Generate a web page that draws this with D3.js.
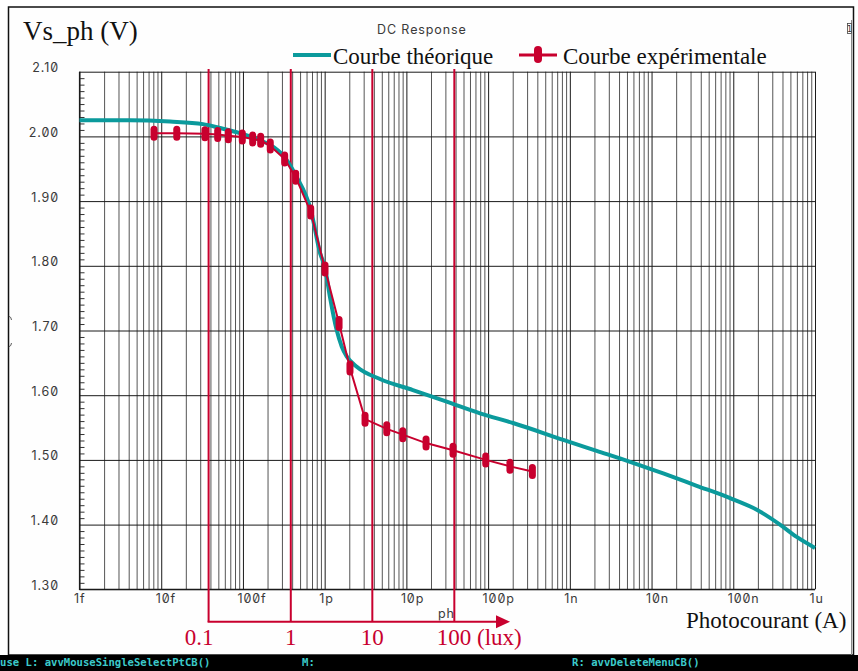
<!DOCTYPE html>
<html>
<head>
<meta charset="utf-8">
<script src="https://cdn.jsdelivr.net/npm/d3@7"></script>
<style>
  html, body { margin: 0; padding: 0; background: #fff; }
  svg { display: block; }
  .axis-label { font-family: Inter, "DejaVu Sans", sans-serif; font-variant-numeric: slashed-zero; font-feature-settings: "zero" 1; font-size: 12.5px; fill: #3a3a3a; letter-spacing: 0.9px; }
  .serif { font-family: "Liberation Serif", "Times New Roman", serif; }
  .status { font-family: "DejaVu Sans Mono", monospace; font-size: 10.6px; font-weight: bold; fill: #3ccaca; }
</style>
</head>
<body>
<svg id="chart" width="858" height="671"></svg>
<script>
// Theoretical DC response: photocurrent (A) vs output voltage Vs_ph (V)
const theoCurrent = [1e-15, 4.15e-15, 1.28e-14, 3.24e-14, 5.24e-14, 9.2e-14, 1.62e-13, 2.14e-13,
  3.27e-13, 4.46e-13, 6.81e-13, 8.77e-13, 1.01e-12, 1.16e-12, 1.40e-12, 1.62e-12, 1.86e-12,
  2.47e-12, 4.75e-12, 1.20e-11, 3.11e-11, 7.96e-11, 2.02e-10, 8.32e-10, 2.13e-9, 5.45e-9,
  1.39e-8, 3.57e-8, 9.14e-8, 1.94e-7, 3.73e-7, 5.97e-7, 1e-6];
const theoVoltage = [2.025, 2.025, 2.023, 2.019, 2.013, 2.005, 1.994, 1.987,
  1.967, 1.939, 1.885, 1.820, 1.797, 1.752, 1.701, 1.675, 1.660,
  1.644, 1.625, 1.608, 1.590, 1.572, 1.557, 1.531, 1.514, 1.497,
  1.479, 1.460, 1.441, 1.423, 1.400, 1.381, 1.364];

// Measured points
const measCurrent = [8.16e-15, 1.55e-14, 3.43e-14, 4.91e-14, 6.62e-14, 9.82e-14, 1.316e-13,
  1.648e-13, 2.16e-13, 3.24e-13, 4.42e-13, 6.75e-13, 1.01e-12, 1.50e-12, 2.04e-12, 3.12e-12,
  5.75e-12, 9.02e-12, 1.74e-11, 3.72e-11, 9.35e-11, 1.85e-10, 3.48e-10];
const measVoltage = [2.005, 2.005, 2.004, 2.003, 2.001, 1.999, 1.996,
  1.994, 1.985, 1.965, 1.937, 1.883, 1.795, 1.711, 1.642, 1.563,
  1.548, 1.539, 1.526, 1.515, 1.500, 1.490, 1.482];

// Illuminance markers (lux) and the photocurrent each corresponds to
const luxLabels = ["0.1", "1", "10", "100 (lux)"];
const luxCurrent = [3.8e-14, 3.85e-13, 3.83e-12, 3.86e-11];

// Axis ticks
const xTickValues = [1e-15, 1e-14, 1e-13, 1e-12, 1e-11, 1e-10, 1e-9, 1e-8, 1e-7, 1e-6];
const xTickLabels = ["1f", "10f", "100f", "1p", "10p", "100p", "1n", "10n", "100n", "1u"];
const yTickValues = [2.1, 2.0, 1.9, 1.8, 1.7, 1.6, 1.5, 1.4, 1.3];

const TEAL = "#0b9a9c";
const RED = "#c8002e";

const svg = d3.select("#chart");
const pLeft = 79.5, pRight = 815, pTop = 71.7, pBottom = 589.3;

const x = d3.scaleLog().domain([1e-15, 1e-6]).range([pLeft, pRight]);
const y = d3.scaleLinear().domain([1.3, 2.1]).range([pBottom, pTop]);

// Outer window frame and status bar
svg.append("rect").attr("x", 0).attr("y", 0).attr("width", 858).attr("height", 671).attr("fill", "#fff");
svg.append("rect").attr("x", 8.5).attr("y", 7).attr("width", 845).attr("height", 648)
  .attr("fill", "#fefefe").attr("stroke", "#111").attr("stroke-width", 1.5);
svg.append("line").attr("x1", 851.5).attr("x2", 851.5).attr("y1", 20).attr("y2", 655)
  .attr("stroke", "#888").attr("stroke-width", 1);
svg.append("rect").attr("x", 847.5).attr("y", 23.5).attr("width", 4).attr("height", 10)
  .attr("fill", "#fff").attr("stroke", "#444").attr("stroke-width", 0.8);
svg.append("text").attr("x", 849.5).attr("y", 32).attr("text-anchor", "middle")
  .attr("font-family", "DejaVu Sans").attr("font-size", 8).attr("fill", "#333").text("1");
svg.append("path").attr("d", "M8.5,316 q3,1 3,4 M8.5,347 q3,-1 3,-4")
  .attr("fill", "none").attr("stroke", "#333").attr("stroke-width", 0.8);

svg.append("rect").attr("x", 0).attr("y", 655).attr("width", 858).attr("height", 16).attr("fill", "#000");
svg.append("text").attr("class", "status").attr("x", 0).attr("y", 666).text("use L: avvMouseSingleSelectPtCB()");
svg.append("text").attr("class", "status").attr("x", 302).attr("y", 666).text("M:");
svg.append("text").attr("class", "status").attr("x", 572).attr("y", 666).text("R: avvDeleteMenuCB()");

// Plot background
svg.append("rect").attr("x", pLeft).attr("y", pTop).attr("width", pRight - pLeft).attr("height", pBottom - pTop)
  .attr("fill", "#fff");

// Minor vertical grid (2..9 per decade)
const minorX = [];
for (let k = -15; k < -6; k++) for (let m = 2; m <= 9; m++) minorX.push(m * Math.pow(10, k));
svg.append("g").attr("transform", `translate(0,${pBottom})`)
  .call(d3.axisBottom(x).tickValues(minorX).tickFormat("").tickSize(-(pBottom - pTop)).tickSizeOuter(0))
  .call(g => g.select(".domain").remove())
  .call(g => g.selectAll("line").attr("stroke", "#555").attr("stroke-width", 1));

// Major vertical grid + labels
svg.append("g").attr("transform", `translate(0,${pBottom})`)
  .call(d3.axisBottom(x).tickValues(xTickValues).tickFormat((d, i) => xTickLabels[i])
    .tickSize(-(pBottom - pTop)).tickSizeOuter(0).tickPadding(4))
  .call(g => g.select(".domain").remove())
  .call(g => g.selectAll("line").attr("stroke", "#1a1a1a").attr("stroke-width", 1))
  .call(g => g.selectAll("text").attr("class", "axis-label").attr("text-anchor", "start")
    .attr("dx", -6).attr("y", 4).attr("dy", "0.75em"));

// Minor y ticks (every 0.01) on the left edge
const minorY = d3.range(131, 211).map(v => v / 100).filter(v => Math.round(v * 100) % 10 !== 0);
svg.append("g").attr("transform", `translate(${pLeft},0)`)
  .call(d3.axisLeft(y).tickValues(minorY).tickFormat("").tickSize(-5).tickSizeOuter(0))
  .call(g => g.select(".domain").remove())
  .call(g => g.selectAll("line").attr("stroke", "#333").attr("stroke-width", 1));

// Major horizontal grid + labels
svg.append("g").attr("transform", `translate(${pLeft},0)`)
  .call(d3.axisLeft(y).tickValues(yTickValues).tickFormat(d3.format(".2f"))
    .tickSize(-(pRight - pLeft)).tickSizeOuter(0).tickPadding(20.5))
  .call(g => g.select(".domain").remove())
  .call(g => g.selectAll("line").attr("stroke", "#1a1a1a").attr("stroke-width", 1))
  .call(g => g.selectAll("text").attr("class", "axis-label").attr("y", -4));

// Plot border (left and bottom)
svg.append("path").attr("d", `M${pLeft},${pTop}V${pBottom}H${pRight}`)
  .attr("fill", "none").attr("stroke", "#1a1a1a").attr("stroke-width", 1.2);

// Lux reference lines with arrow
const luxG = svg.append("g");
const arrowY = 621.7;
luxG.selectAll("line.lux").data(luxCurrent).join("line").attr("class", "lux")
  .attr("x1", d => x(d)).attr("x2", d => x(d)).attr("y1", 69).attr("y2", arrowY)
  .attr("stroke", RED).attr("stroke-width", 2);
const arrowEnd = 510;
luxG.append("line").attr("x1", x(luxCurrent[0]) - 1).attr("x2", arrowEnd - 10)
  .attr("y1", arrowY).attr("y2", arrowY).attr("stroke", RED).attr("stroke-width", 2);
luxG.append("path").attr("d", `M${arrowEnd},${arrowY}L${arrowEnd - 14},${arrowY - 6.5}L${arrowEnd - 14},${arrowY + 6.5}Z`)
  .attr("fill", RED);

// "ph" axis caption fragment
svg.append("text").attr("class", "axis-label").attr("x", 438).attr("y", 618).attr("font-size", 12).text("ph");

const luxAnchor = ["end", "middle", "middle", "start"];
const luxDx = [5, 0, 0, -17.5];
luxG.selectAll("text").data(luxLabels).join("text").attr("class", "serif")
  .attr("x", (d, i) => x(luxCurrent[i]) + luxDx[i]).attr("y", 645)
  .attr("text-anchor", (d, i) => luxAnchor[i])
  .attr("font-size", 23).attr("fill", RED).text(d => d);

// Theoretical curve
const theo = theoCurrent.map((c, i) => [c, theoVoltage[i]]);
svg.append("path").datum(theo)
  .attr("d", d3.line().x(d => x(d[0])).y(d => y(d[1])).curve(d3.curveMonotoneX))
  .attr("fill", "none").attr("stroke", TEAL).attr("stroke-width", 4).attr("stroke-linejoin", "round");

// Measured curve
const meas = measCurrent.map((c, i) => [c, measVoltage[i]]);
svg.append("path").datum(meas)
  .attr("d", d3.line().x(d => x(d[0])).y(d => y(d[1])))
  .attr("fill", "none").attr("stroke", RED).attr("stroke-width", 2);
svg.append("g").selectAll("rect").data(meas).join("rect")
  .attr("x", d => x(d[0]) - 3.5).attr("y", d => y(d[1]) - 7.5)
  .attr("width", 7).attr("height", 15).attr("rx", 3.5).attr("fill", RED);

// Titles
svg.append("text").attr("class", "serif").attr("x", 23).attr("y", 40).attr("font-size", 27)
  .attr("fill", "#111").text("Vs_ph (V)");
svg.append("text").attr("class", "axis-label").attr("x", 377).attr("y", 34).attr("font-size", 12.5)
  .attr("letter-spacing", 1.4).text("DC Response");
svg.append("text").attr("class", "serif").attr("x", 686).attr("y", 628).attr("font-size", 23)
  .attr("fill", "#111").text("Photocourant (A)");

// Legend
const legend = svg.append("g");
legend.append("line").attr("x1", 293).attr("x2", 331).attr("y1", 55).attr("y2", 55)
  .attr("stroke", TEAL).attr("stroke-width", 4);
legend.append("text").attr("class", "serif").attr("x", 333).attr("y", 64).attr("font-size", 23)
  .attr("fill", "#111").text("Courbe théorique");
legend.append("line").attr("x1", 519).attr("x2", 557).attr("y1", 55).attr("y2", 55)
  .attr("stroke", RED).attr("stroke-width", 3);
legend.append("rect").attr("x", 534).attr("y", 46).attr("width", 8).attr("height", 17).attr("rx", 4)
  .attr("fill", RED);
legend.append("text").attr("class", "serif").attr("x", 563).attr("y", 64).attr("font-size", 23)
  .attr("fill", "#111").text("Courbe expérimentale");
</script>
</body>
</html>
